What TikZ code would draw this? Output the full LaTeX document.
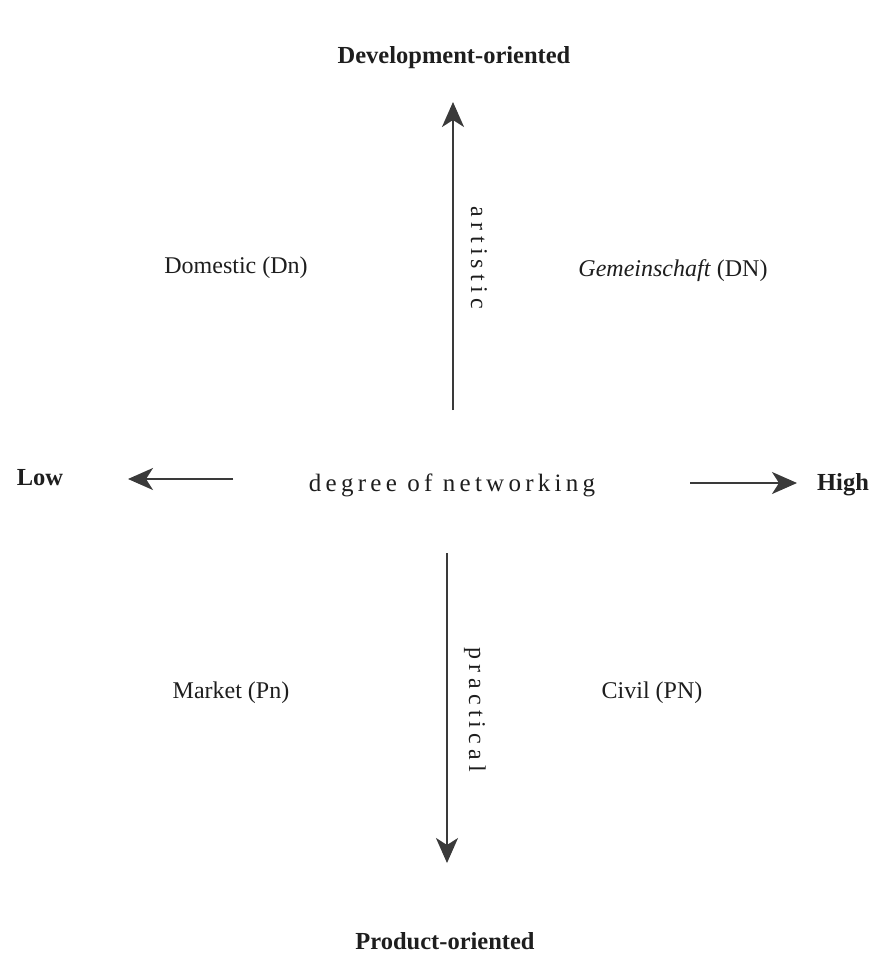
\documentclass[tikz,border=0pt]{standalone}
\usepackage{fontspec}
\setmainfont{Liberation Serif}
\newfontfamily\wideA[LetterSpace=17]{Liberation Serif}
\newfontfamily\wideB[LetterSpace=22]{Liberation Serif}
\usetikzlibrary{arrows.meta}
\definecolor{ink}{HTML}{1E1E1E}
\definecolor{axisgray}{HTML}{3A3A3A}
\tikzset{
  axis/.style={draw=axisgray, line width=2pt, -{Stealth[length=25pt,width=22pt,inset=7pt]}},
  lbl/.style={text=ink, font=\fontsize{24}{26}\selectfont, inner sep=0pt},
  pole/.style={text=ink, font=\fontsize{24.5}{26}\selectfont\bfseries, inner sep=0pt},
}
\begin{document}
\begin{tikzpicture}[x=1pt,y=-1pt]
\useasboundingbox[fill=white] (0,0) rectangle (871,975);
% poles
\node[pole] (dev) at (454,58) {Development-oriented};
\node[pole] (prod) at (445,941) {Product-oriented};
\node[pole] (low) at (40,478) {Low};
\node[pole] (high) at (843,485) {High};
% centre label
\node[lbl, font=\fontsize{25}{27}\wideA] (net) at (452,485) {degree of networking};
% axes
\coordinate (upTail) at (453,410);
\coordinate (upTip) at (453,102);
\coordinate (dnTail) at (447,553);
\coordinate (dnTip) at (447,863);
\coordinate (lTail) at (233,479);
\coordinate (lTip) at (128,479);
\coordinate (rTail) at (690,483);
\coordinate (rTip) at (797,483);
\draw[axis] (upTail) -- (upTip);
\draw[axis] (dnTail) -- (dnTip);
\draw[axis] (lTail) -- (lTip);
\draw[axis] (rTail) -- (rTip);
% axis labels
\node[lbl, font=\fontsize{24}{26}\wideB, rotate=-90] (art) at (479,258) {artistic};
\node[lbl, font=\fontsize{24}{26}\wideB, rotate=-90] (prac) at (475,710) {practical};
% quadrants
\node[lbl] (dom) at (236,268) {Domestic (Dn)};
\node[lbl] (gem) at (673,271) {\textit{Gemeinschaft} (DN)};
\node[lbl] (mkt) at (231,693) {Market (Pn)};
\node[lbl] (civ) at (652,693) {Civil (PN)};
\end{tikzpicture}
\end{document}
